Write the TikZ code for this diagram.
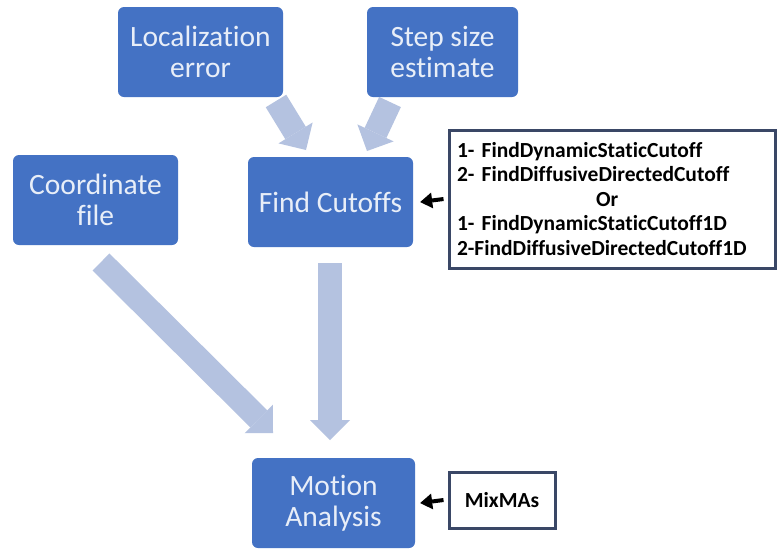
\documentclass[tikz,border=0pt]{standalone}
\usepackage{fontspec}
\setmainfont{Carlito}[Ligatures=NoCommon]
\usetikzlibrary{arrows.meta}
\definecolor{nodeblue}{HTML}{4472C4}
\definecolor{nodetext}{HTML}{E8EEF8}
\definecolor{fatc}{HTML}{B4C2E0}
\definecolor{boxline}{HTML}{3A4766}
\tikzset{
  bluebox/.style={fill=nodeblue, draw=none, rounded corners=6pt, text=nodetext,
    minimum width=165pt, minimum height=90pt, align=center,
    font=\fontsize{29.5}{31}\selectfont, inner sep=0pt},
  infobox/.style={draw=boxline, line width=3pt, fill=white, text=black,
    font=\bfseries\fontsize{21.5}{24.5}\selectfont, inner sep=0pt},
  fatarrow/.style={draw=fatc, line width=24pt,
    -{Triangle[length=20pt,width=40pt,line width=0pt]}},
  blkarrow/.style={draw=black, line width=4pt,
    -{Triangle[length=12pt,width=16pt,line width=0pt]}}
}
\begin{document}
\begin{tikzpicture}[x=1pt,y=-1pt]
\useasboundingbox[fill=white] (0,0) rectangle (778,550);

\node[bluebox] (loc) at (200.5,52) {Localization\\error};
\node[bluebox, minimum width=151pt] (step) at (442.5,52) {Step size\\estimate};
\node[bluebox] (cf) at (330.5,202) {Find Cutoffs};
\node[bluebox] (coord) at (95.5,200) {Coordinate\\file};
\node[bluebox, minimum width=163pt] (mo) at (333.5,503) {Motion\\Analysis};

\node[infobox, minimum width=326pt, minimum height=138pt, text width=310pt, align=left]
  (fc) at (612,199)
  {1- FindDynamicStaticCutoff\\
   2- FindDiffusiveDirectedCutoff\\
   \hspace*{139pt}Or\\
   1- FindDynamicStaticCutoff1D\\
   2-FindDiffusiveDirectedCutoff1D};
\node[infobox, minimum width=106pt, minimum height=56pt] (mx) at (502,500) {MixMAs};

% fat connectors
\coordinate (a1s) at (276,101);
\coordinate (a1e) at (306,150);
\coordinate (a2s) at (390,102);
\coordinate (a2e) at (367,151);
\coordinate (a3s) at (101,262);
\coordinate (a3e) at (273,433);
\coordinate (a4s) at (330,263);
\coordinate (a4e) at (330,440);
\draw[fatarrow] (a1s) -- (a1e);
\draw[fatarrow] (a2s) -- (a2e);
\draw[fatarrow] (a3s) -- (a3e);
\draw[fatarrow] (a4s) -- (a4e);

% black connectors
\draw[blkarrow] ([xshift=-4pt]fc.west) -- ([xshift=7pt]cf.east);
\draw[blkarrow] ([xshift=-4pt]mx.west) -- ([xshift=5pt]mo.east);
\end{tikzpicture}
\end{document}
